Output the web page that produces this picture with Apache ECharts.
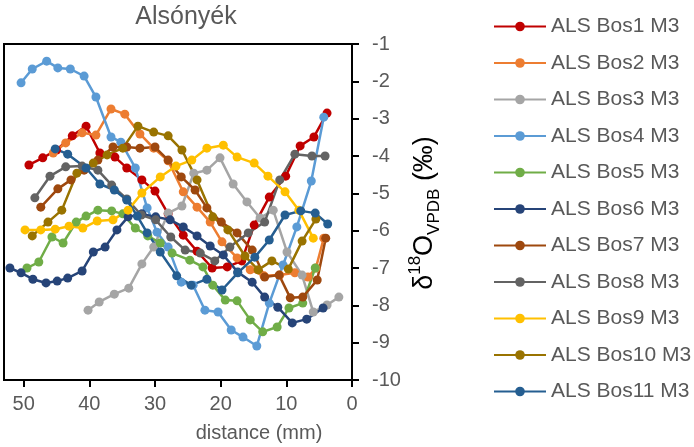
<!DOCTYPE html>
<html>
<head>
<meta charset="utf-8">
<script src="https://cdn.jsdelivr.net/npm/echarts@6/dist/echarts.min.js"></script>
<style>
  html, body { margin: 0; padding: 0; background: #fff; }
  #chart { width: 694px; height: 447px; }
</style>
</head>
<body>
<div id="chart"></div>
<script>
// distance (mm), d18O (per mil)
var names = ['ALS Bos1 M3', 'ALS Bos2 M3', 'ALS Bos3 M3', 'ALS Bos4 M3', 'ALS Bos5 M3', 'ALS Bos6 M3',
    'ALS Bos7 M3', 'ALS Bos8 M3', 'ALS Bos9 M3', 'ALS Bos10 M3', 'ALS Bos11 M3'];
var colors = ['#C00000', '#ED7D31', '#A5A5A5', '#5B9BD5', '#70AD47', '#264478',
    '#9E480E', '#636363', '#FFC000', '#997300', '#255E91'];

var bos1 = [[49.2, -4.24], [47.1, -4.05], [45.0, -3.84], [42.6, -3.46], [40.5, -3.20], [38.4, -3.92], [36.1, -4.03],
    [34.3, -4.32], [32.0, -4.64], [30.0, -4.94], [28.0, -5.55], [25.7, -6.12], [23.6, -6.55], [21.3, -7.00],
    [19.0, -6.97], [16.8, -6.81], [14.9, -5.85], [12.6, -5.10], [10.1, -4.54], [7.9, -3.73], [5.8, -3.49], [3.8, -2.85]];
var bos2 = [[45.5, -3.92], [43.6, -3.65], [41.1, -3.38], [39.0, -3.44], [36.7, -2.74], [34.6, -2.88], [32.3, -3.41],
    [30.2, -3.79], [28.0, -4.13], [25.7, -4.96], [23.6, -5.37], [21.6, -5.77], [19.8, -6.30], [17.5, -6.73],
    [15.5, -7.05], [13.4, -7.21], [11.0, -7.19], [8.7, -7.13], [6.7, -7.24], [5.5, -7.00], [4.3, -6.20]];
var bos3 = [[40.2, -8.13], [38.5, -7.91], [36.2, -7.70], [34.0, -7.54], [32.0, -6.89], [30.2, -6.44], [28.0, -5.53],
    [25.9, -5.34], [24.1, -4.46], [22.1, -4.38], [20.1, -4.05], [18.1, -4.75], [16.0, -5.23], [14.0, -5.66],
    [12.0, -5.45], [9.9, -6.57], [7.6, -7.19], [5.9, -8.18], [3.8, -7.99], [2.0, -7.78]];
var bos4 = [[50.4, -2.04], [48.7, -1.67], [46.5, -1.46], [44.8, -1.64], [42.9, -1.67], [40.8, -1.86], [39.0, -2.42],
    [36.7, -3.49], [35.2, -3.63], [33.0, -4.32], [31.2, -5.39], [29.7, -6.04], [28.0, -6.44], [26.0, -7.38],
    [24.2, -7.46], [22.4, -8.13], [20.4, -8.18], [18.4, -8.66], [16.6, -8.85], [14.5, -9.09], [12.6, -7.94],
    [10.5, -6.92], [8.4, -5.90], [6.2, -4.67], [4.3, -2.96]];
var bos5 = [[49.5, -7.00], [47.7, -6.84], [45.7, -6.17], [44.0, -6.33], [42.0, -5.77], [40.5, -5.61], [38.7, -5.45],
    [36.6, -5.47], [34.9, -5.55], [33.0, -5.93], [31.1, -6.14], [29.2, -6.33], [27.4, -6.60], [24.7, -6.79],
    [22.7, -6.97], [21.2, -7.46], [19.3, -7.86], [17.5, -7.88], [15.5, -8.39], [13.6, -8.71], [11.4, -8.58],
    [9.6, -8.07], [7.5, -7.94], [5.6, -7.00]];
var bos6 = [[52.1, -7.00], [50.4, -7.13], [48.6, -7.30], [46.6, -7.40], [44.9, -7.35], [43.3, -7.27], [41.1, -7.08],
    [39.4, -6.57], [37.6, -6.44], [35.8, -5.98], [34.1, -5.63], [32.0, -5.55], [29.9, -5.63], [27.7, -5.71],
    [25.7, -5.90], [23.6, -6.14], [21.6, -6.41], [19.6, -6.65], [17.4, -7.11], [15.2, -7.38], [13.3, -7.78],
    [11.3, -8.05], [9.1, -8.47], [6.9, -8.37], [4.4, -8.07]];
var bos7 = [[47.4, -5.37], [44.8, -4.88], [42.8, -4.64], [40.8, -4.38], [38.7, -4.11], [36.4, -3.76], [34.3, -3.76],
    [32.3, -3.79], [30.0, -3.76], [28.0, -4.11], [26.0, -4.56], [23.9, -4.91], [22.1, -5.39], [19.9, -5.77],
    [17.5, -6.06], [15.2, -6.52], [13.3, -7.24], [11.1, -7.19], [9.4, -7.80], [7.5, -7.78], [5.3, -7.32], [4.0, -6.20]];
var bos8 = [[48.3, -5.12], [46.0, -4.54], [43.6, -4.29], [41.1, -4.27], [38.7, -4.38], [36.6, -4.78], [34.3, -5.15],
    [32.1, -5.58], [29.9, -5.71], [27.6, -6.17], [25.4, -6.52], [23.1, -6.60], [20.9, -6.81], [18.6, -6.44],
    [15.8, -6.06], [13.3, -5.77], [11.0, -4.64], [8.7, -3.95], [6.1, -4.00], [4.1, -4.00]];
var bos9 = [[49.8, -5.98], [47.4, -5.98], [45.2, -5.96], [43.1, -5.88], [41.0, -5.93], [38.8, -5.74], [36.4, -5.71],
    [34.1, -5.45], [32.0, -4.99], [29.2, -4.56], [26.8, -4.27], [24.4, -4.11], [22.1, -3.79], [19.6, -3.71],
    [17.5, -4.03], [14.9, -4.19], [12.8, -4.54], [10.2, -4.96], [8.1, -5.45], [5.9, -6.20]];
var bos10 = [[48.7, -6.14], [46.3, -5.77], [44.2, -5.45], [41.9, -4.46], [39.4, -4.19], [37.3, -3.97], [34.9, -3.79],
    [32.6, -3.20], [30.2, -3.36], [28.0, -3.46], [25.9, -3.84], [23.6, -4.64], [21.2, -5.63], [18.9, -5.98],
    [16.3, -6.68], [14.3, -7.05], [12.2, -6.81], [9.7, -7.03], [7.6, -6.28], [5.5, -5.69]];
var bos11 = [[45.2, -3.81], [43.3, -3.95], [40.5, -4.32], [38.4, -4.75], [36.2, -4.91], [34.3, -5.18], [32.7, -5.61],
    [31.2, -6.06], [29.2, -6.57], [26.7, -7.21], [24.5, -7.46], [22.1, -7.30], [19.8, -7.59], [17.4, -7.13],
    [14.8, -6.71], [12.6, -6.25], [10.2, -5.58], [7.8, -5.47], [5.6, -5.53], [3.7, -5.82]];

var xTicks = [0, 10, 20, 30, 40, 50];
var allData = [bos1, bos2, bos3, bos4, bos5, bos6, bos7, bos8, bos9, bos10, bos11];

var textColor = '#595959';
var font = 'Liberation Sans, Arial, sans-serif';

var chart = echarts.init(document.getElementById('chart'));

var series = [];
for (var i = 0; i < names.length; i++) {
    series.push({
        name: names[i],
        type: 'line',
        data: allData[i],
        symbol: 'circle',
        symbolSize: 9,
        itemStyle: {color: colors[i]},
        lineStyle: {color: colors[i], width: 2.5},
        emphasis: {disabled: true}
    });
}

var option = {
    animation: false,
    color: colors,
    textStyle: {fontFamily: font},
    grid: {
        left: 4, right: 342, top: 44, bottom: 67,
        show: true, borderColor: '#000', borderWidth: 2
    },
    legend: {
        orient: 'vertical',
        left: 488,
        top: 11,
        itemWidth: 52,
        itemHeight: 12,
        itemGap: 15.5,
        textStyle: {fontSize: 21, lineHeight: 20, color: textColor, fontFamily: font},
        data: names
    },
    xAxis: {
        type: 'value',
        min: 0,
        max: 53,
        inverse: true,
        splitLine: {show: false},
        axisLine: {show: true, lineStyle: {color: '#000', width: 2}},
        axisTick: {show: true, length: 7, lineStyle: {color: '#000', width: 2}, customValues: xTicks},
        axisLabel: {fontSize: 20, color: textColor, margin: 14, customValues: xTicks}
    },
    yAxis: {
        type: 'value',
        position: 'right',
        min: -10,
        max: -1,
        interval: 1,
        splitLine: {show: false},
        axisLine: {show: true, lineStyle: {color: '#000', width: 2}},
        axisTick: {show: true, length: 7, lineStyle: {color: '#000', width: 2}},
        axisLabel: {fontSize: 20, color: textColor, margin: 20}
    },
    graphic: [
        {
            type: 'text', x: 186, y: 17,
            style: {text: 'Alsónyék', font: '25px ' + font, fill: textColor, textAlign: 'center', textVerticalAlign: 'middle'}
        },
        {
            type: 'text', x: 259, y: 433,
            style: {text: 'distance (mm)', font: '20px ' + font, fill: textColor, textAlign: 'center', textVerticalAlign: 'middle'}
        },
        {
            type: 'text', x: 425, y: 213, rotation: Math.PI / 2,
            style: {
                text: '{a|δ}{sup|18}{a|O}{sub|VPDB}{a| (‰)}',
                textAlign: 'center', textVerticalAlign: 'middle',
                rich: {
                    a: {fontSize: 27, lineHeight: 36, fontFamily: font, color: textColor, verticalAlign: 'middle'},
                    sup: {fontSize: 17, lineHeight: 17, fontFamily: font, color: textColor, verticalAlign: 'top'},
                    sub: {fontSize: 17, lineHeight: 17, fontFamily: font, color: textColor, verticalAlign: 'bottom'}
                }
            }
        }
    ],
    series: series
};

chart.setOption(option);
</script>
</body>
</html>
